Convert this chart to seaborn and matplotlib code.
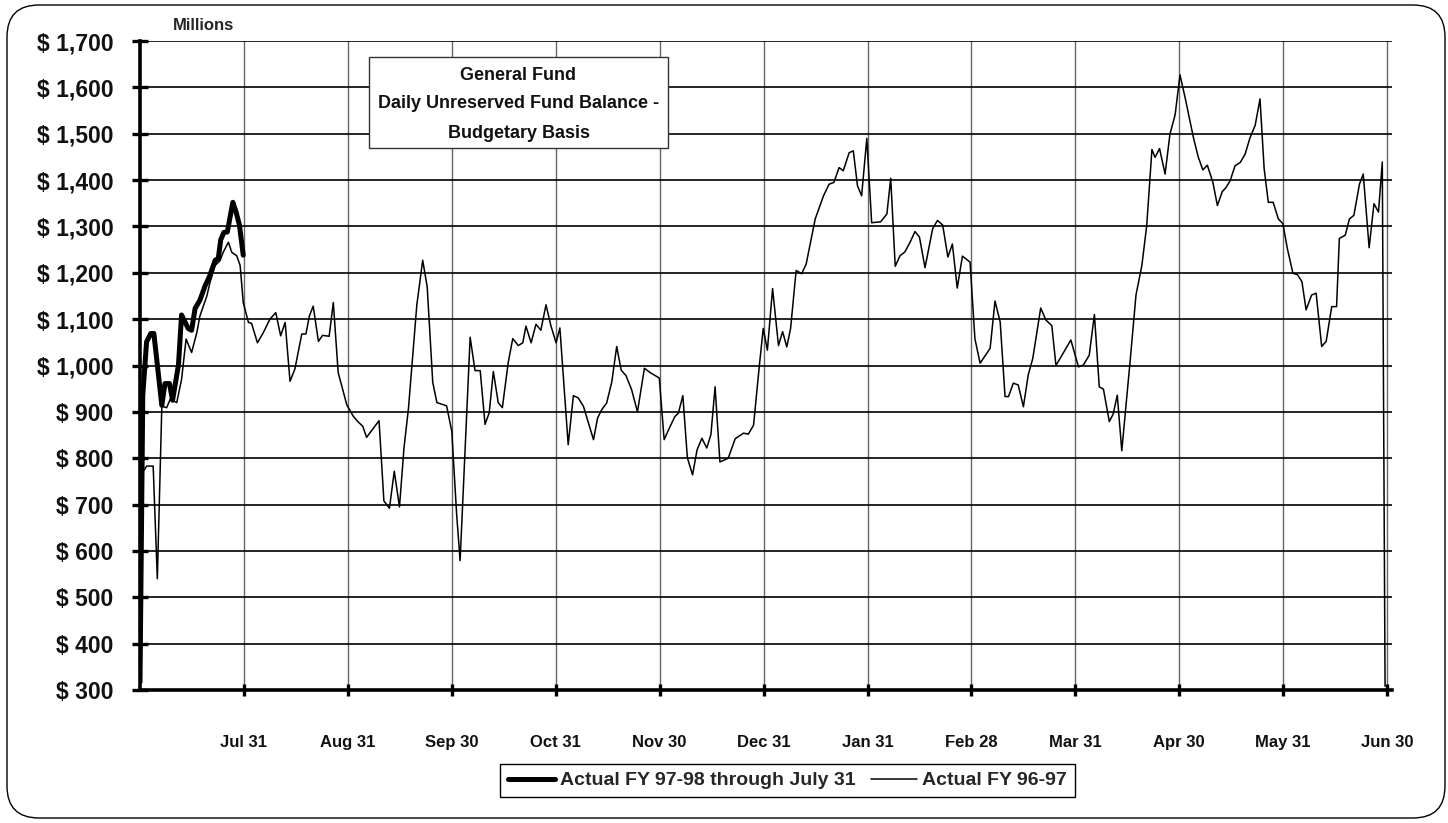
import matplotlib
matplotlib.use('Agg')
import matplotlib.pyplot as plt
import seaborn as sns
import pandas as pd
from matplotlib.patches import FancyBboxPatch, Rectangle

# x position = days from Jul 1 (tick every 30 days, category-style axis)
fy9798_day = [0, 0.8, 1.9, 3.1, 4.0, 6.3, 7.2, 8.5, 9.4, 11.1, 12.0, 13.9, 14.9, 15.9,
              17.3, 18.8, 20.0, 21.7, 22.6, 23.3, 24.2, 25.2, 26.8, 27.7, 28.7, 29.8]
fy9798_val = [317, 936, 1051, 1069, 1069, 914, 961, 961, 925, 1001, 1109, 1080, 1076, 1123,
              1141, 1172, 1191, 1227, 1231, 1271, 1287, 1288, 1352, 1332, 1303, 1238]

fy9697_day = [1.2, 1.9, 3.8, 5.0, 6.3, 7.7, 8.7, 10.6, 12.0, 13.3, 14.9, 16.4, 17.3, 19.3,
              20.2, 21.7, 23.1, 24.0, 25.5, 26.5, 27.9, 28.9, 29.8, 31.3, 32.2, 33.9, 35.6,
              37.5, 39.2, 40.6, 41.9, 43.3, 44.7, 46.7, 47.9, 48.9, 50.0, 51.5, 52.7, 54.6,
              55.8, 57.2, 59.7, 61.6, 63.0, 64.3, 65.4, 69.0, 70.4, 72.0, 73.4, 74.9, 76.2,
              77.5, 79.9, 81.6, 82.9, 84.5, 85.7, 88.5, 90.0, 91.4, 92.4, 95.3, 96.7, 98.2,
              99.6, 100.8, 102.0, 103.4, 104.6, 106.3, 107.6, 109.2, 110.5, 111.4, 112.9,
              114.3, 115.7, 117.2, 118.6, 120.1, 121.2, 123.6, 125.1, 126.5, 128.0, 130.9,
              132.1, 133.3, 134.7, 136.2, 137.6, 138.9, 140.3, 141.9, 143.6, 145.6, 147.2,
              149.9, 151.3, 152.8, 154.4, 155.4, 156.7, 158.0, 159.5, 160.8, 162.2, 163.6,
              164.8, 166.0, 167.4, 169.8, 171.8, 174.2, 175.6, 177.1, 178.8, 179.9, 181.1,
              182.6, 184.3, 185.5, 186.7, 187.8, 189.4, 191.0, 192.3, 194.9, 197.3, 198.9,
              200.3, 201.8, 203.0, 204.7, 205.9, 207.1, 208.3, 209.8, 211.2, 213.8, 215.6,
              216.7, 218.0, 219.4, 220.8, 222.3, 223.7, 225.0, 226.6, 228.8, 230.2, 231.7,
              233.2, 234.5, 235.9, 237.4, 239.6, 241.0, 242.5, 245.4, 246.8, 248.3, 249.7,
              250.7, 252.1, 253.5, 255.0, 256.4, 257.7, 260.0, 261.5, 263.2, 264.4, 268.7,
              270.9, 272.3, 274.0, 275.5, 276.9, 278.1, 279.8, 280.9, 282.1, 283.4, 285.8,
              287.5, 289.2, 290.6, 292.1, 293.0, 294.3, 295.9, 297.3, 298.8, 300.2, 301.7,
              302.9, 304.1, 305.5, 306.8, 308.1, 309.7, 311.0, 312.4, 313.5, 314.7, 316.1,
              317.6, 319.0, 320.4, 321.9, 323.3, 324.5, 325.7, 327.1, 328.6, 329.9, 331.2,
              332.8, 334.1, 335.4, 336.6, 338.2, 339.5, 341.1, 342.4, 344.0, 345.4, 346.2,
              347.9, 349.1, 350.4, 352.0, 353.1, 354.8, 356.2, 357.5, 358.6, 359.4]
fy9697_val = [774, 783, 783, 540, 912, 909, 927, 920, 970, 1057, 1028, 1071, 1107, 1150,
              1179, 1216, 1226, 1244, 1266, 1244, 1237, 1216, 1136, 1093, 1091, 1049, 1071,
              1100, 1114, 1064, 1093, 966, 992, 1068, 1068, 1107, 1128, 1052, 1065, 1063,
              1136, 985, 915, 890, 878, 869, 845, 881, 708, 692, 772, 695, 822,
              908, 1130, 1227, 1170, 964, 920, 913, 858, 679, 579, 1061, 989, 989,
              873, 898, 987, 920, 909, 1007, 1058, 1043, 1049, 1085, 1049,
              1089, 1076, 1131, 1086, 1049, 1081, 829, 935, 930, 912, 840,
              887, 905, 919, 965, 1041, 990, 978, 948, 900, 994, 985,
              973, 840, 865, 890, 897, 935, 801, 764, 818, 843, 822,
              851, 954, 792, 800, 842, 854, 852, 871, 1001, 1080, 1033,
              1166, 1043, 1073, 1040, 1080, 1205, 1198, 1219, 1316, 1366, 1391,
              1395, 1427, 1420, 1459, 1463, 1388, 1366, 1490, 1308, 1310, 1327,
              1404, 1214, 1237, 1245, 1266, 1289, 1277, 1211, 1295, 1313, 1303,
              1234, 1262, 1167, 1236, 1223, 1058, 1005, 1037, 1139, 1094, 933,
              933, 962, 958, 911, 980, 1015, 1124, 1098, 1086, 1000, 1055,
              997, 1001, 1022, 1110, 954, 949, 879, 895, 936, 816, 1009,
              1152, 1216, 1302, 1466, 1449, 1468, 1413, 1499, 1541, 1627, 1577,
              1534, 1491, 1449, 1422, 1432, 1395, 1345, 1375, 1384, 1399, 1431,
              1438, 1456, 1491, 1518, 1575, 1424, 1352, 1352, 1316, 1306, 1252,
              1199, 1196, 1181, 1120, 1152, 1156, 1041, 1052, 1127, 1127, 1274,
              1281, 1316, 1324, 1391, 1413, 1254, 1349, 1331, 1439, 308]

tick_days = [30, 60, 90, 120, 150, 180, 210, 240, 270, 300, 330, 360]
tick_labels = ['Jul 31', 'Aug 31', 'Sep 30', 'Oct 31', 'Nov 30', 'Dec 31',
               'Jan 31', 'Feb 28', 'Mar 31', 'Apr 30', 'May 31', 'Jun 30']
y_ticks = [300, 400, 500, 600, 700, 800, 900, 1000, 1100, 1200, 1300, 1400, 1500, 1600, 1700]

lab_new = 'Actual FY 97-98 through July 31'
lab_old = 'Actual FY 96-97'
df = pd.concat([
    pd.DataFrame({'day': fy9798_day, 'bal': fy9798_val, 'series': lab_new}),
    pd.DataFrame({'day': fy9697_day, 'bal': fy9697_val, 'series': lab_old}),
], ignore_index=True)

sns.set_theme(style='white')
plt.rcParams['font.family'] = ['Liberation Sans', 'DejaVu Sans']
plt.rcParams['font.weight'] = 'bold'

W, H = 1448, 823
fig = plt.figure(figsize=(W / 100, H / 100), dpi=100)
fig.patch.set_facecolor('white')

# outer rounded frame
fig.patches.append(FancyBboxPatch((0.07, 0.05), 14.38, 8.13,
                                  boxstyle='round,pad=0,rounding_size=0.32',
                                  transform=fig.dpi_scale_trans, fill=False,
                                  edgecolor='black', linewidth=1.0))

ax = fig.add_axes([140 / W, 1 - 690 / H, (1392 - 140) / W, (690 - 41) / H])
ax.set_facecolor('white')

sns.lineplot(data=df[df.series == lab_new], x='day', y='bal', color='black', lw=3.6,
             estimator=None, sort=False, label=lab_new, ax=ax, zorder=3)
sns.lineplot(data=df[df.series == lab_old], x='day', y='bal', color='black', lw=1.1,
             estimator=None, sort=False, label=lab_old, ax=ax, zorder=4)

ax.set_xlim(0, 361.4)
ax.set_ylim(300, 1700)
ax.set_xticks(tick_days)
ax.set_xticklabels(tick_labels)
ax.set_yticks(y_ticks)
ax.set_yticklabels([f'$ {v:,}' for v in y_ticks])
ax.set_xlabel('')
ax.set_ylabel('')

ax.set_axisbelow(True)
ax.grid(axis='y', color='black', lw=1.2)
ax.grid(axis='x', color='#666666', lw=1.0)
for s in ['top', 'right']:
    ax.spines[s].set_visible(False)
for s in ['left', 'bottom']:
    ax.spines[s].set_color('black')
    ax.spines[s].set_linewidth(2.6)
    ax.spines[s].set_zorder(5)

ax.tick_params(axis='y', direction='inout', length=12, width=2.4, color='black',
               pad=13, labelsize=16.5, labelcolor='#111111', left=True)
ax.tick_params(axis='x', direction='inout', length=9, width=2.4, color='black',
               pad=28, labelsize=12, labelcolor='#111111', bottom=True)

fig.text(204 / W, 1 - 26 / H, 'Millions', ha='center', va='center',
         fontsize=12, fontweight='bold')

# title box
fig.patches.append(Rectangle((369 / W, 1 - 148 / H), (668 - 369) / W, (148 - 57) / H,
                             transform=fig.transFigure, facecolor='white',
                             edgecolor='#333333', linewidth=1.0, zorder=10))
for txt, yy in [('General Fund', 75), ('Daily Unreserved Fund Balance -', 104),
                ('Budgetary Basis', 133)]:
    fig.text(518.5 / W, 1 - yy / H, txt, ha='center', va='center', fontsize=13,
             fontweight='bold', color='#111111', zorder=11)

ax.get_legend().remove()
handles, labels = ax.get_legend_handles_labels()
leg = fig.legend(handles, labels, loc='center', bbox_to_anchor=(787.5 / W, 1 - 780.5 / H),
                 ncol=2, frameon=True, fancybox=False, edgecolor='black', framealpha=1,
                 fontsize=14, handlelength=2.4, handletextpad=0.25, columnspacing=0.8,
                 borderpad=0.4)
leg.get_frame().set_linewidth(1.0)

fig.savefig('out.png', dpi=100)
